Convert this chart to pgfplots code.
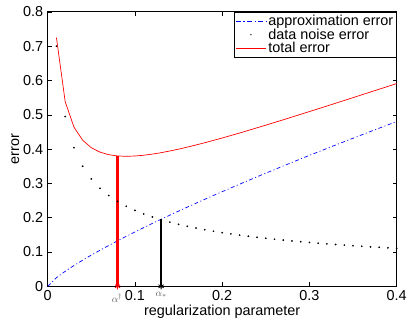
\documentclass[border=0pt]{standalone}
\usepackage{pgfplots}
\usepackage{pgfplotstable}
\pgfplotsset{compat=1.18}
\usepackage{fontspec}
\setmainfont{Liberation Sans}
\definecolor{mblue}{RGB}{0,0,255}
\pgfplotstableread{
a approx noise total
0.00 0.0000 nan nan
0.01 0.0251 0.7000 0.7251
0.02 0.0437 0.4950 0.5387
0.03 0.0605 0.4041 0.4646
0.04 0.0761 0.3500 0.4261
0.05 0.0910 0.3130 0.4040
0.06 0.1053 0.2858 0.3911
0.07 0.1191 0.2646 0.3837
0.08 0.1326 0.2475 0.3801
0.09 0.1457 0.2333 0.3790
0.10 0.1585 0.2214 0.3799
0.11 0.1710 0.2111 0.3821
0.12 0.1834 0.2021 0.3855
0.13 0.1955 0.1941 0.3896
0.14 0.2074 0.1871 0.3945
0.15 0.2192 0.1807 0.3999
0.16 0.2308 0.1750 0.4058
0.17 0.2423 0.1698 0.4121
0.18 0.2536 0.1650 0.4186
0.19 0.2649 0.1606 0.4255
0.20 0.2759 0.1565 0.4324
0.21 0.2869 0.1528 0.4397
0.22 0.2978 0.1492 0.4470
0.23 0.3086 0.1460 0.4546
0.24 0.3193 0.1429 0.4622
0.25 0.3299 0.1400 0.4699
0.26 0.3404 0.1373 0.4777
0.27 0.3508 0.1347 0.4855
0.28 0.3612 0.1323 0.4935
0.29 0.3715 0.1300 0.5015
0.30 0.3817 0.1278 0.5095
0.31 0.3918 0.1257 0.5175
0.32 0.4019 0.1237 0.5256
0.33 0.4119 0.1219 0.5338
0.34 0.4219 0.1200 0.5419
0.35 0.4318 0.1183 0.5501
0.36 0.4416 0.1167 0.5583
0.37 0.4514 0.1151 0.5665
0.38 0.4611 0.1136 0.5747
0.39 0.4708 0.1121 0.5829
0.40 0.4805 0.1107 0.5912
}\datatable
\begin{document}
\begin{tikzpicture}
\begin{axis}[
  scale only axis,
  width=351pt, height=276pt,
  xmin=0, xmax=0.4, ymin=0, ymax=0.8,
  xtick={0,0.1,0.2,0.3,0.4},
  ytick={0,0.1,0.2,0.3,0.4,0.5,0.6,0.7,0.8},
  xticklabels={0,0.1,0.2,0.3,0.4},
  yticklabels={0,0.1,0.2,0.3,0.4,0.5,0.6,0.7,0.8},
  /pgf/number format/assume math mode=true,
  tick align=inside,
  major tick length=4pt,
  axis line style={line width=0.9pt},
  every tick/.style={black, line width=0.6pt},
  tick label style={font=\fontsize{14.5}{16}\selectfont},
  xticklabel style={yshift=-1pt},
  yticklabel style={xshift=-1pt},
  label style={font=\fontsize{14.5}{16}\selectfont},
  xlabel={regularization parameter},
  ylabel={error},
  xlabel style={yshift=2.5pt},
  ylabel style={yshift=-3pt},
  clip=false,
  legend style={at={(1,1)}, anchor=north east, draw=black, line width=0.8pt,
    font=\fontsize{14.5}{16}\selectfont, inner sep=1pt, row sep=-2.5pt,
    cells={anchor=west}},
  legend cell align=left,
]
\addplot[color=mblue, line width=0.7pt, dash pattern=on 4pt off 2.5pt on 1pt off 2.5pt,
  legend image code/.code={\pgfsetstrokecolor{mblue}\pgfsetlinewidth{0.9pt}\pgfsetdash{{5pt}{2.5pt}{1.2pt}{2.5pt}}{0pt}\pgfpathmoveto{\pgfpointorigin}\pgfpathlineto{\pgfpoint{30pt}{0pt}}\pgfusepath{stroke}}] table[x=a, y=approx] {\datatable};
\addlegendentry{approximation error}
\addplot[only marks, mark=*, mark size=0.65pt, black,
  legend image code/.code={\fill[draw=none, fill=black] (15pt,0pt) circle (0.75pt); \path[draw=none] (0pt,0pt) -- (30pt,0pt);}] table[x=a, y=noise] {\datatable};
\addlegendentry{data noise error}
\addplot[red, line width=0.7pt,
  legend image code/.code={\draw[draw=red, line width=0.7pt] (0pt,0pt) -- (30pt,0pt);}] table[x=a, y=total] {\datatable};
\addlegendentry{total error}
\addplot[red, line width=2.4pt, forget plot] coordinates {(0.08,0) (0.08,0.3801)};
\addplot[black, line width=1.8pt, forget plot] coordinates {(0.13,0) (0.13,0.1955)};
\addplot[only marks, mark=asterisk, mark size=3pt, red, line width=0.8pt, forget plot] coordinates {(0.08,0)};
\addplot[only marks, mark=asterisk, mark size=3pt, black, line width=0.8pt, forget plot] coordinates {(0.13,0)};
\node[gray!70!black, font=\fontsize{10}{11}\selectfont, anchor=north] at (axis cs:0.0795,-0.012) {$\alpha^{\dagger}$};
\node[gray!70!black, font=\fontsize{10}{11}\selectfont, anchor=north] at (axis cs:0.13,-0.006) {$\alpha_{*}$};
\end{axis}
\path ([xshift=-48pt,yshift=-36pt]current axis.south west) rectangle ([xshift=11pt,yshift=12pt]current axis.north east);
\end{tikzpicture}
\end{document}
